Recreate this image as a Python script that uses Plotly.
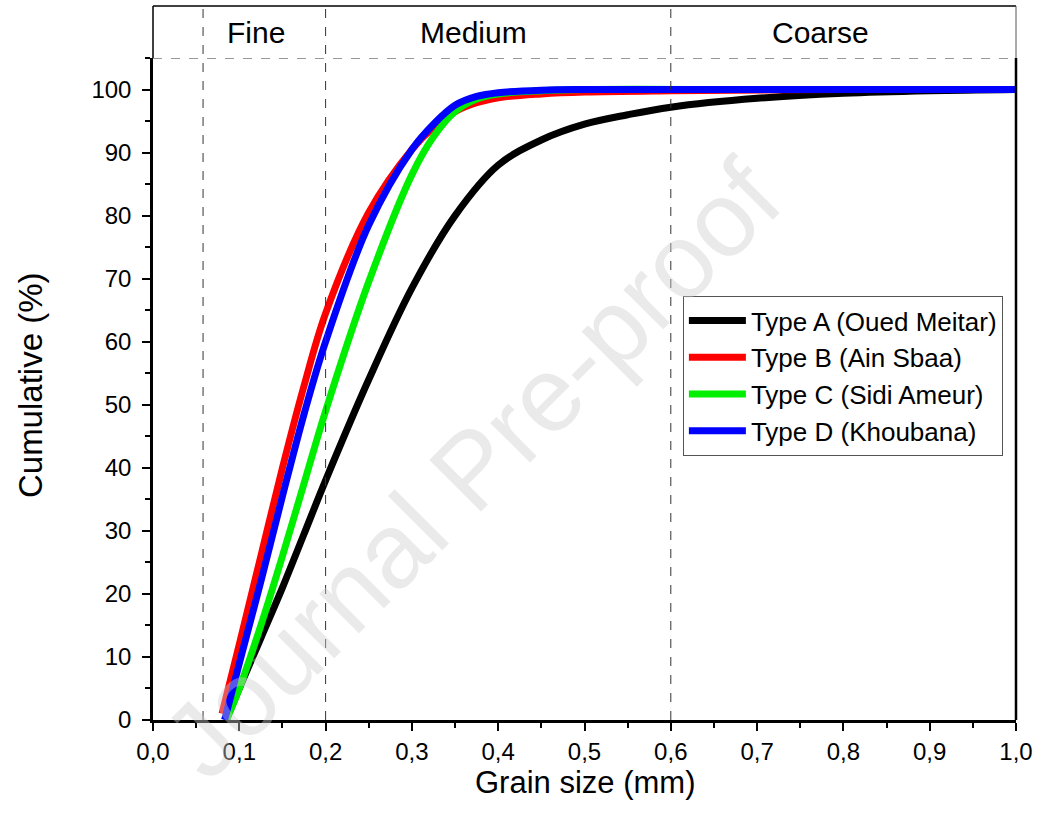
import plotly.graph_objects as go

# ---- data ----
x_a = [0.085, 0.10, 0.125, 0.15, 0.175, 0.20, 0.25, 0.30, 0.35, 0.40, 0.45, 0.50, 0.55, 0.60, 0.70, 0.80, 0.90, 1.00]
y_a = [0, 5, 13, 21, 29.5, 38, 54, 68.5, 80, 88, 92, 94.5, 96, 97.2, 98.6, 99.4, 99.8, 100]

x_b = [0.080, 0.10, 0.125, 0.15, 0.175, 0.20, 0.25, 0.30, 0.325, 0.35, 0.375, 0.40, 0.45, 0.50, 0.60, 0.80, 1.00]
y_b = [1, 12, 26, 40, 53, 64.5, 80.5, 90.5, 94, 96.5, 97.9, 98.7, 99.3, 99.6, 99.8, 100, 100]

x_c = [0.085, 0.10, 0.125, 0.15, 0.175, 0.20, 0.25, 0.30, 0.325, 0.35, 0.375, 0.40, 0.45, 0.50, 0.70, 1.00]
y_c = [0, 5, 15, 26, 37.5, 49, 69.5, 86.5, 92.5, 96.5, 98.5, 99.3, 99.8, 100, 100, 100]

x_d = [0.083, 0.10, 0.125, 0.15, 0.175, 0.20, 0.25, 0.30, 0.325, 0.35, 0.375, 0.40, 0.45, 0.50, 0.70, 1.00]
y_d = [0, 9, 22, 35.5, 48.5, 60, 78.5, 90.5, 94.5, 97.5, 98.9, 99.5, 99.9, 100, 100, 100]

names = ["Type A (Oued Meitar)", "Type B (Ain Sbaa)", "Type C (Sidi Ameur)", "Type D (Khoubana)"]
colors = ["#000000", "#ff0000", "#00ee00", "#0000ff"]

region_names = ["Fine", "Medium", "Coarse"]
region_centers = [0.119, 0.371, 0.773]
region_bounds = [0.058, 0.2, 0.6]

xticks = [0.0, 0.1, 0.2, 0.3, 0.4, 0.5, 0.6, 0.7, 0.8, 0.9, 1.0]
yticks = [0, 10, 20, 30, 40, 50, 60, 70, 80, 90, 100]

FONT = "Liberation Sans, Arial, sans-serif"

fig = go.Figure()
for xs, ys, n, c in zip([x_a, x_b, x_c, x_d], [y_a, y_b, y_c, y_d], names, colors):
    fig.add_trace(go.Scatter(x=xs, y=ys, mode="lines", name=n,
                             line=dict(color=c, width=7, shape="spline", smoothing=1.0)))

TOP = 1.0785
shapes = []
for b in region_bounds:
    shapes.append(dict(type="line", xref="x", yref="paper", x0=b, x1=b, y0=0, y1=TOP,
                       line=dict(color="#333333", width=1, dash="dash")))
shapes.append(dict(type="line", xref="paper", yref="y", x0=0, x1=1, y0=105, y1=105,
                   line=dict(color="#333333", width=1, dash="dash")))
shapes.append(dict(type="line", xref="paper", yref="paper", x0=1, x1=1, y0=0, y1=1,
                   line=dict(color="black", width=2.5)))
shapes.append(dict(type="line", xref="paper", yref="paper", x0=0, x1=1, y0=TOP, y1=TOP,
                   line=dict(color="black", width=1.5)))
shapes.append(dict(type="line", xref="paper", yref="paper", x0=0, x1=0, y0=1, y1=TOP,
                   line=dict(color="black", width=1.5)))
shapes.append(dict(type="line", xref="paper", yref="paper", x0=1, x1=1, y0=1, y1=TOP,
                   line=dict(color="#555555", width=1)))

annotations = []
annotations.append(dict(text="Journal Pre-proof", x=0.37, xref="paper", y=0.38, yref="paper",
                        showarrow=False, xanchor="center", yanchor="middle", textangle=-45,
                        font=dict(family=FONT, size=106, color="rgba(205,205,205,0.42)")))
for n, c in zip(region_names, region_centers):
    annotations.append(dict(text=n, x=c, xref="x", y=1.0378, yref="paper",
                            showarrow=False, xanchor="center", yanchor="middle",
                            font=dict(family=FONT, size=30, color="black")))
annotations.append(dict(text="Grain size (mm)", x=0.5, xref="paper", y=-0.095, yref="paper",
                        showarrow=False, xanchor="center", yanchor="middle",
                        font=dict(family=FONT, size=31, color="black")))
annotations.append(dict(text="Cumulative (%)", x=-0.1425, xref="paper", y=0.506, yref="paper",
                        showarrow=False, xanchor="center", yanchor="middle", textangle=-90,
                        font=dict(family=FONT, size=33, color="black")))

fig.update_layout(
    width=1040, height=818,
    margin=dict(l=153, r=24, t=58, b=98),
    paper_bgcolor="white", plot_bgcolor="white",
    separators=", ",
    showlegend=True,
    legend=dict(x=0.614, y=0.6405, xanchor="left", yanchor="top",
                bgcolor="rgba(255,255,255,0)", bordercolor="#555555", borderwidth=1,
                font=dict(family=FONT, size=26, color="black"),
                tracegroupgap=0, itemwidth=57),
    shapes=shapes,
    annotations=annotations,
    xaxis=dict(range=[0, 1], tickvals=xticks, tickformat=".1f", automargin=False,
               showgrid=False, zeroline=False, showline=True, linecolor="black", linewidth=2.5,
               ticks="outside", ticklen=8, tickwidth=2, tickcolor="black",
               minor=dict(ticks="outside", ticklen=5, tickwidth=2, tickcolor="black", dtick=0.05, showgrid=False),
               tickfont=dict(family=FONT, size=24, color="black")),
    yaxis=dict(range=[0, 105], tickvals=yticks, automargin=False, ticklabelstandoff=6,
               showgrid=False, zeroline=False, showline=True, linecolor="black", linewidth=2.5,
               ticks="outside", ticklen=8, tickwidth=2, tickcolor="black",
               minor=dict(ticks="outside", ticklen=5, tickwidth=2, tickcolor="black", dtick=5, showgrid=False),
               tickfont=dict(family=FONT, size=24, color="black")),
)

fig.write_html("out.html")
